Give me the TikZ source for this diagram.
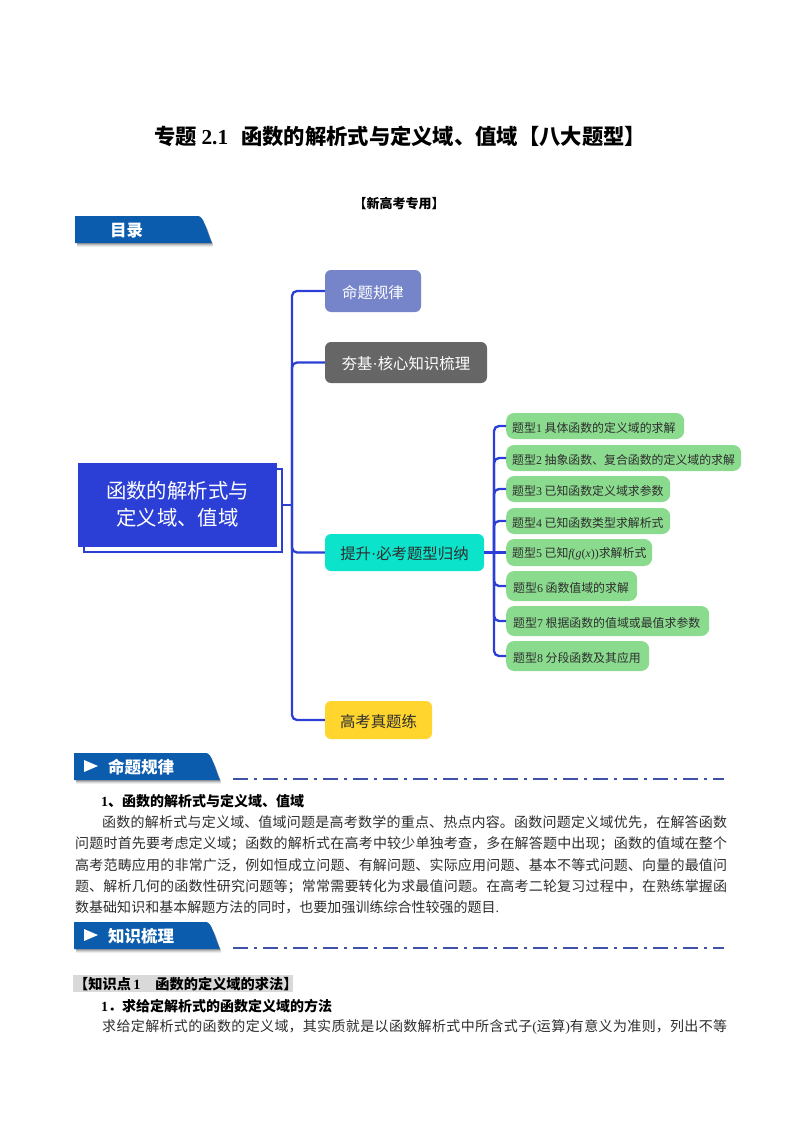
\documentclass[tikz,border=0pt]{standalone}
\usepackage{fontspec}
\setmainfont{Liberation Serif}
\newfontfamily\cjk{Noto Sans CJK SC}
\newfontfamily\lat{Liberation Serif}
\XeTeXlinebreaklocale "zh"
\XeTeXlinebreakskip=0pt plus 3pt
\definecolor{mapblue}{HTML}{2B3FD6}
\definecolor{tagblue}{HTML}{0B5CAD}
\definecolor{dashblue}{HTML}{3F52A8}
\definecolor{greenbox}{HTML}{8BDB8F}
\definecolor{inktext}{HTML}{2E2E2E}
\definecolor{boxa}{HTML}{7685C9}
\definecolor{boxb}{HTML}{666666}
\definecolor{boxc}{HTML}{0BE3CB}
\definecolor{boxd}{HTML}{FFD52E}
\tikzset{
  conn/.style={draw=mapblue,line width=2.3pt,rounded corners=5pt},
  topbox/.style={rounded corners=6pt,inner sep=0pt,font=\cjk\fontsize{15.4}{18}\selectfont},
  subbox/.style={fill=greenbox,rounded corners=8pt,inner xsep=6pt,inner ysep=0pt,anchor=west,text=inktext,font=\cjk\fontsize{11.9}{14}\selectfont},
  bodyline/.style={anchor=west,inner sep=0pt,text=inktext,font=\cjk\fontsize{14}{16}\selectfont},
  headline/.style={anchor=west,inner sep=0pt,text=black,font=\cjk\bfseries\fontsize{14}{16}\selectfont},
  tagfill/.style={fill=tagblue},
  tagtext/.style={text=white,inner sep=0pt,font=\cjk\bfseries\fontsize{16.5}{18}\selectfont},
  dashrule/.style={draw=dashblue,line width=2.4pt,dash pattern=on 15pt off 6pt on 3pt off 6pt},
}
\newcommand{\just}[2]{\parbox{#1pt}{\parfillskip=0pt #2}}
\newcommand{\dn}[1]{\raisebox{-1.5pt}[\height][\depth]{#1}}
\newcommand{\tagshape}[3]{%
  % x-left, y-top, x-right
  \foreach \o/\a in {5/0.06,4/0.09,3/0.13,2/0.18}{
    \fill[black,opacity=\a] (#1+2,#2+8) -- (#3-9,#2+8) .. controls (#3-5,#2+8) and (#3-3,#2+20) .. (#3+1,#2+26+\o) -- (#1+2,#2+26+\o) -- cycle;
  }
  \fill[tagfill] (#1,#2) -- (#3-14,#2) .. controls (#3-8,#2) and (#3-6,#2+14) .. (#3,#2+27) -- (#1,#2+27) -- cycle;
}
\begin{document}
\begin{tikzpicture}[x=1pt,y=-1pt]
\useasboundingbox (0,0) rectangle (800,1132);
\fill[white] (0,0) rectangle (800,1132);

% Title block
\node[inner sep=0pt,font=\cjk\bfseries\fontsize{21.3}{24}\selectfont] (title) at (400,136) {专题 {\lat 2.1}\hspace{13pt}函数的解析式与定义域、值域【八大题型】};
\node[inner sep=0pt,font=\cjk\bfseries\fontsize{13}{15}\selectfont] (sub) at (399,204) {【新高考专用】};

% Contents tag
\tagshape{75}{216}{212}
\node[tagtext] (tagA) at (126.5,231) {目录};

% Mind map
\node[draw=mapblue,line width=2pt,fill=white,minimum width=198pt,minimum height=83pt,inner sep=0pt] (rootback) at (183,510.5) {};
\node[fill=mapblue,minimum width=199pt,minimum height=84pt,inner sep=0pt,text=white,
  font=\cjk\fontsize{20.4}{27}\selectfont] (root) at (177.5,505) {\raisebox{-2pt}[\height][\depth]{\begin{tabular}{@{}c@{}}函数的解析式与\\定义域、值域\end{tabular}}};

\node[topbox,fill=boxa,text=white,minimum width=96pt,minimum height=42pt] (a) at (373,291) {\dn{命题规律}};
\node[topbox,fill=boxb,text=white,minimum width=162pt,minimum height=41pt] (b) at (406,362.5) {\dn{夯基{\lat ·}核心知识梳理}};
\node[topbox,fill=boxc,text=inktext,minimum width=159pt,minimum height=37pt] (c) at (404.5,552.5) {\dn{提升{\lat ·}必考题型归纳}};
\node[topbox,fill=boxd,text=inktext,minimum width=107pt,minimum height=38pt] (d) at (378.5,720) {\dn{高考真题练}};

\node[subbox,minimum width=178pt,minimum height=26pt] (t1) at (506,426) {\makebox[166pt][l]{\dn{题型{\lat 1} 具体函数的定义域的求解}}};
\node[subbox,minimum width=235pt,minimum height=26pt] (t2) at (506,458) {\makebox[223pt][l]{\dn{题型{\lat 2} 抽象函数、复合函数的定义域的求解}}};
\node[subbox,minimum width=164pt,minimum height=26pt] (t3) at (506,489) {\makebox[152pt][l]{\dn{题型{\lat 3} 已知函数定义域求参数}}};
\node[subbox,minimum width=164pt,minimum height=26pt] (t4) at (506,521) {\makebox[152pt][l]{\dn{题型{\lat 4} 已知函数类型求解析式}}};
\node[subbox,minimum width=146pt,minimum height=27pt] (t5) at (506,552.5) {\makebox[134pt][l]{\dn{题型{\lat 5} 已知{\lat\itshape f}{\lat(}{\lat\itshape g}{\lat(}{\lat\itshape x}{\lat))}求解析式}}};
\node[subbox,minimum width=131pt,minimum height=30pt,inner xsep=7pt] (t6) at (506,586) {\makebox[117pt][l]{\dn{题型{\lat 6} 函数值域的求解}}};
\node[subbox,minimum width=203pt,minimum height=30pt,inner xsep=7pt] (t7) at (506,621) {\makebox[189pt][l]{\dn{题型{\lat 7} 根据函数的值域或最值求参数}}};
\node[subbox,minimum width=143pt,minimum height=30pt,inner xsep=7pt] (t8) at (506,656) {\makebox[129pt][l]{\dn{题型{\lat 8} 分段函数及其应用}}};

% Connectors
\coordinate (hub) at (292,505);
\coordinate (hubr) at (494,552.5);
\draw[conn] (rootback.east |- root.east) -- (hub);
\foreach \n in {a,b,c,d} { \draw[conn] (hub) |- (\n.west); }
\draw[conn] (c.east) -- (t5.west);
\foreach \n in {t1,t2,t3,t4,t6,t7,t8} { \draw[conn] (hubr) |- (\n.west); }

% Section: rules
\tagshape{74}{753}{220}
\fill[white] (84,760) -- (98,766) -- (84,772) -- cycle;
\node[tagtext,anchor=west] (tagB) at (108,767) {命题规律};
\coordinate (ruleBa) at (233,779);
\coordinate (ruleBb) at (724,779);
\draw[dashrule] (ruleBa) -- (ruleBb);

\node[headline] (h1) at (101,801.5) {{\lat\bfseries 1}、函数的解析式与定义域、值域};
\node[bodyline] (l1) at (102,822.5) {\just{625}{函数的解析式与定义域、值域问题是高考数学的重点、热点内容。函数问题定义域优先，在解答函数}};
\node[bodyline] (l2) at (75,844) {\just{652}{问题时首先要考虑定义域；函数的解析式在高考中较少单独考查，多在解答题中出现；函数的值域在整个}};
\node[bodyline] (l3) at (75,865.5) {\just{652}{高考范畴应用的非常广泛，例如恒成立问题、有解问题、实际应用问题、基本不等式问题、向量的最值问}};
\node[bodyline] (l4) at (75,886.5) {\just{652}{题、解析几何的函数性研究问题等；常常需要转化为求最值问题。在高考二轮复习过程中，在熟练掌握函}};
\node[bodyline] (l5) at (75,907.5) {\just{424}{数基础知识和基本解题方法的同时，也要加强训练综合性较强的题目{\lat .}}};

% Section: knowledge
\tagshape{74}{922}{220}
\fill[white] (84,929) -- (98,935) -- (84,941) -- cycle;
\node[tagtext,anchor=west] (tagC) at (108,936) {知识梳理};
\coordinate (ruleCa) at (233,948);
\coordinate (ruleCb) at (724,948);
\draw[dashrule] (ruleCa) -- (ruleCb);

\fill[black!15] (73,975) rectangle (293,992);
\node[headline,font=\cjk\bfseries\fontsize{14.2}{16}\selectfont] (k0) at (74,984) {【知识点{\lat\bfseries\,1}\hspace{15pt}函数的定义域的求法】};
\node[headline] (k1) at (101,1006.5) {{\lat\bfseries 1}．求给定解析式的函数定义域的方法};
\node[bodyline] (k2) at (102,1027.5) {\just{625}{求给定解析式的函数的定义域，其实质就是以函数解析式中所含式子{\lat (}运算{\lat )}有意义为准则，列出不等}};
\end{tikzpicture}
\end{document}
